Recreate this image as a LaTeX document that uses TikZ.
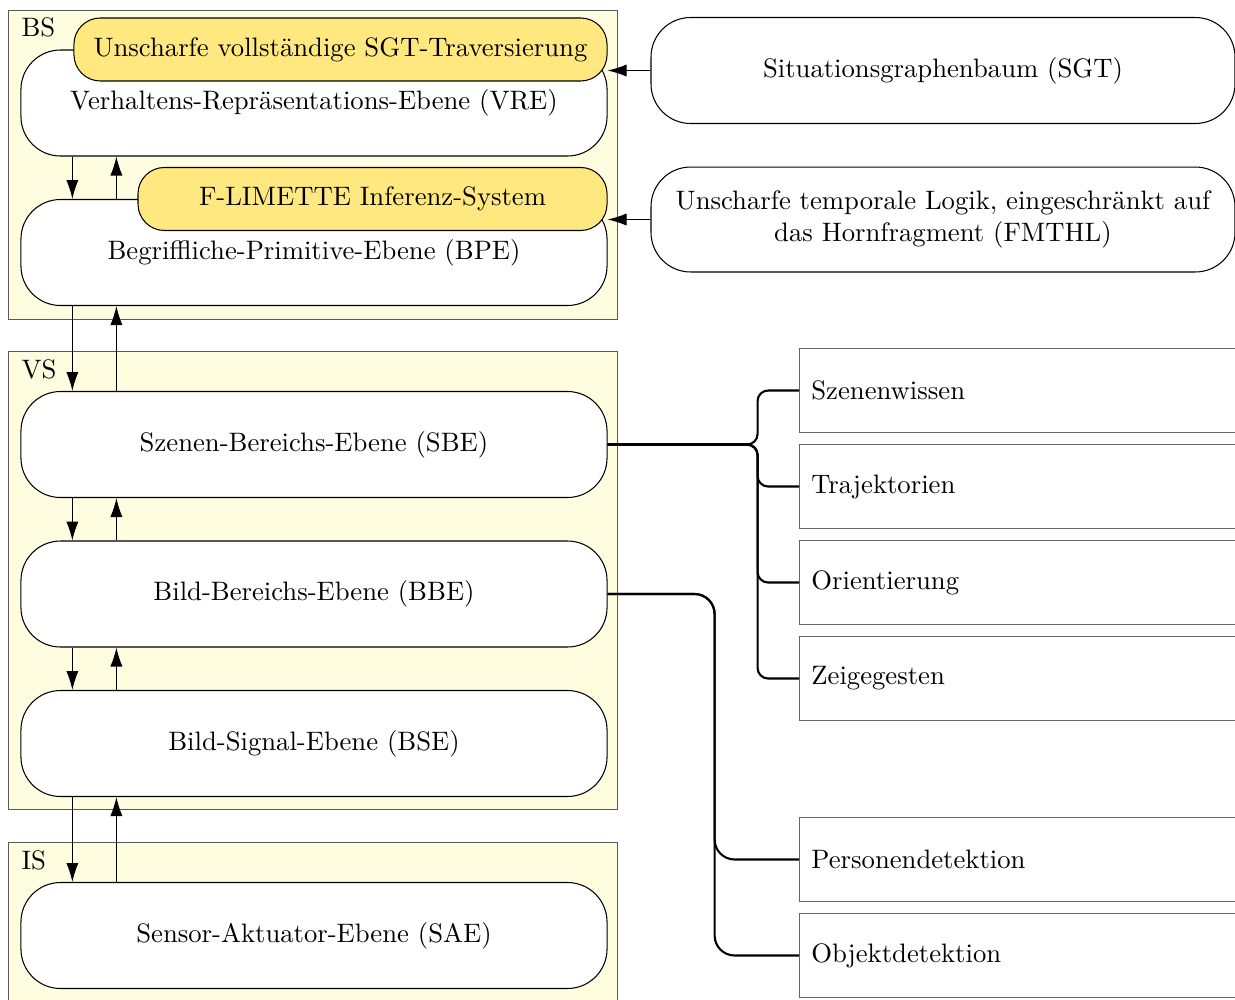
\documentclass[tikz,border=0pt]{standalone}
\usetikzlibrary{arrows.meta}
\definecolor{panelfill}{RGB}{255,253,224}
\definecolor{hlfill}{RGB}{255,232,128}
\begin{document}
\begin{tikzpicture}[x=0.3793pt,y=-0.3793pt,
  font=\fontsize{10.12pt}{12.2pt}\selectfont,
  panel/.style={draw=black!65, fill=panelfill, line width=0.5pt, rectangle, inner sep=0pt, anchor=north west},
  panellabel/.style={anchor=base west, inner sep=0pt},
  layer/.style={draw, fill=white, rounded corners=15pt, minimum width=222.3pt, minimum height=40.2pt, inner sep=0pt},
  hl/.style={draw, fill=hlfill, rounded corners=10pt, minimum height=23.9pt, inner sep=0pt, anchor=east},
  source/.style={draw, fill=white, rounded corners=15pt, minimum width=221.5pt, minimum height=40.2pt, inner sep=0pt, align=center},
  leaf/.style={draw=black!60, rectangle, minimum height=32.2pt, text width=181pt, inner sep=4.5pt, align=left, anchor=west},
  arr/.style={-{Latex[length=7.2pt,width=4.6pt]}, line width=0.4pt},
  branch/.style={line width=0.8pt}
]
\clip (0,0) rectangle (1235,999);

% subsystem panels
\node[panel, minimum width=231pt, minimum height=117.2pt] (BS) at (8,10) {};
\node[panel, minimum width=231pt, minimum height=173.7pt] (VS) at (8,351) {};
\node[panel, minimum width=231pt, minimum height=80pt] (IS) at (8,842) {};
\node[panellabel] (BSl) at (21,36) {BS};
\node[panellabel] (VSl) at (21,378) {VS};
\node[panellabel] (ISl) at (21,869) {IS};

% layers
\node[layer] (VRE) at (314,103) {Verhaltens-Repräsentations-Ebene (VRE)};
\node[layer] (BPE) at (314,252.5) {Begriffliche-Primitive-Ebene (BPE)};
\node[layer] (SBE) at (314,444.5) {Szenen-Bereichs-Ebene (SBE)};
\node[layer] (BBE) at (314,594) {Bild-Bereichs-Ebene (BBE)};
\node[layer] (BSE) at (314,743.5) {Bild-Signal-Ebene (BSE)};
\node[layer] (SAE) at (314,935.5) {Sensor-Aktuator-Ebene (SAE)};

% components sitting on the upper layers
\node[hl, minimum width=202.2pt] (TRAV) at (VRE.north east) {Unscharfe vollständige SGT-Traversierung};
\node[hl, minimum width=177.9pt] (LIM) at (BPE.north east) {F-LIMETTE Inferenz-System};

% knowledge sources
\node[source] (SGT) at (943,70.5) {Situationsgraphenbaum (SGT)};
\node[source, minimum height=39.8pt] (FMTHL) at (943,219.5) {Unscharfe temporale Logik, eingeschränkt auf\\das Hornfragment (FMTHL)};

% modules
\node[leaf] (SW) at (799,390.5) {Szenenwissen};
\node[leaf] (TR) at (799,486.5) {Trajektorien};
\node[leaf] (OR) at (799,582.5) {Orientierung};
\node[leaf] (ZG) at (799,678.5) {Zeigegesten};
\node[leaf] (PD) at (799,859.5) {Personendetektion};
\node[leaf] (OD) at (799,955.5) {Objektdetektion};

% vertical data flow between layers
\foreach \a/\b in {VRE/BPE, BPE/SBE, SBE/BBE, BBE/BSE, BSE/SAE} {
  \draw[arr] ([xshift=19.7pt]\a.south west) -- ([xshift=19.7pt]\b.north west);
  \draw[arr] ([xshift=36.4pt]\b.north west) -- ([xshift=36.4pt]\a.south west);
}

% knowledge inputs
\draw[arr] (SGT.west) -- (SGT.west -| VRE.east);
\draw[arr] (FMTHL.west) -- (FMTHL.west -| BPE.east);

% module branches
\foreach \t in {SW,TR,OR,ZG}
  \draw[branch, rounded corners=4pt] (SBE.east) -- ([xshift=56.9pt]SBE.east) |- (\t.west);
\foreach \t in {PD,OD}
  \draw[branch, rounded corners=7.6pt] (BBE.east) -- ([xshift=40.6pt]BBE.east) |- (\t.west);
\end{tikzpicture}
\end{document}
